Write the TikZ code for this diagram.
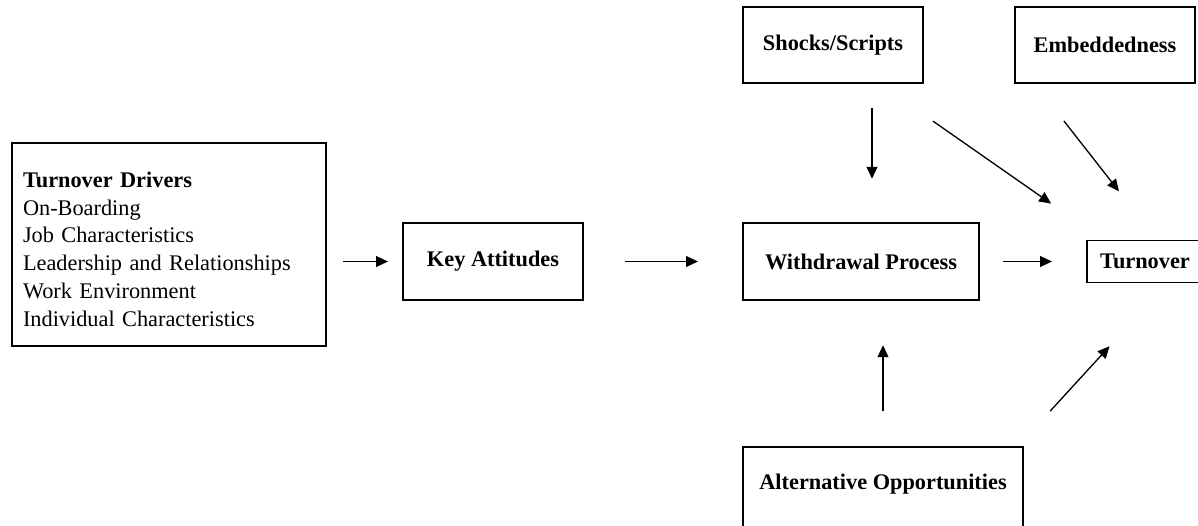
\documentclass[tikz,border=0pt]{standalone}
\usepackage{fontspec}
\setmainfont{Liberation Serif}
\usetikzlibrary{positioning, arrows.meta}
\newcommand{\figfont}{\fontsize{12.7}{15.8}\selectfont}

\begin{document}
\begin{tikzpicture}[->,>={Triangle[length=6.8pt,width=6.2pt]},line width=0.75pt]
		\tikzstyle{box}=[draw, line width=1.1pt, inner sep=0pt, outer sep=0pt,
			minimum height=1.52cm, font=\figfont\bfseries]
		\useasboundingbox (0,0) rectangle (23.96,-10.5);
		\node[box, minimum height=4.06cm, text width=5.84cm, inner xsep=0.22cm,
			align=left, font=\figfont] (drivers) at (3.38,-4.89)
			{\textbf{Turnover Drivers}\rule{0pt}{14pt}\\On-Boarding\\Job Characteristics\\
			Leadership and Relationships\\Work Environment\\Individual Characteristics};
		\node[box, minimum width=3.6cm, minimum height=1.55cm] (key)
			[right=1.54cm of drivers, yshift=-0.34cm] {Key Attitudes};
		\node[box, minimum width=4.72cm, minimum height=1.55cm] (withdrawal)
			[right=3.2cm of key] {Withdrawal Process};
		\node[box, minimum width=2.32cm, minimum height=0.84cm] (turnover)
			[right=2.16cm of withdrawal] {Turnover};
		\node[box, minimum width=3.6cm] (shocks)
			[above=2.8cm of withdrawal, xshift=-0.56cm] {Shocks/Scripts};
		\node[box, minimum width=3.6cm] (embed) [right=1.84cm of shocks] {Embeddedness};
		\node[box, minimum width=5.6cm, minimum height=1.64cm, text depth=7.3pt] (alt)
			[below=2.94cm of withdrawal, xshift=0.44cm] {Alternative Opportunities};

		\path 	(drivers.east |- key.west) edge[shorten <=0.34cm, shorten >=0.3cm] (key.west)
				(key) edge[shorten <=0.84cm, shorten >=0.9cm] (withdrawal)
				(withdrawal) edge[shorten <=0.48cm, shorten >=0.7cm] (turnover)
				([xshift=0.78cm]shocks.south) edge[shorten <=0.5cm, shorten >=0.88cm]
					([xshift=0.22cm]withdrawal.north)
				([xshift=0.9cm]shocks.south) edge[shorten <=1.34cm, shorten >=1.29cm]
					([xshift=-0.82cm]turnover.north)
				([xshift=-1.42cm]embed.south) edge[shorten <=0.97cm, shorten >=1.25cm]
					([xshift=0.25cm]turnover.north)
				(alt.north) edge[shorten <=0.72cm, shorten >=0.9cm] (alt.north |- withdrawal.south)
				([xshift=-0.12cm]alt.north east) edge[shorten <=0.98cm, shorten >=1.73cm]
					([xshift=0.46cm]turnover.south);
	\end{tikzpicture}
\end{document}
